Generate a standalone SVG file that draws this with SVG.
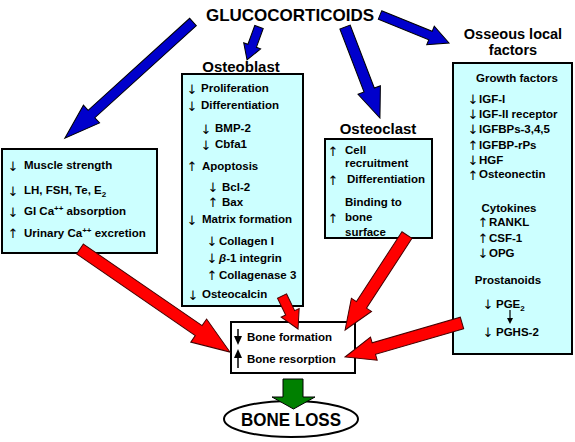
<svg xmlns="http://www.w3.org/2000/svg" width="575" height="442" viewBox="0 0 575 442">
<style>
.box{fill:#ccffff;stroke:#000;stroke-width:2}
.wbox{fill:#fff;stroke:#000;stroke-width:2}
.t{font-family:"Liberation Sans",Arial,sans-serif;font-weight:bold;font-size:11.5px;fill:#000}
.h{font-size:15px}
.c{text-anchor:middle}
.ar{font-family:"DejaVu Sans",sans-serif;font-size:13px;text-anchor:middle;fill:#000}
.blue{fill:#0000cc;stroke:#000;stroke-width:1}
.red{fill:#ff0000;stroke:#400;stroke-width:1}
.green{fill:#008000;stroke:#000;stroke-width:1}
</style>
<rect width="575" height="442" fill="#fff"/>

<g id="glucocorticoids">
<text class="t c" x="290" y="21" style="font-size:17px">GLUCOCORTICOIDS</text>
</g>

<g id="systemic">
<rect class="box" x="2" y="149" width="155" height="104"/>
<text class="ar" x="13" y="171">↓</text><text class="t" x="24" y="169">Muscle strength</text>
<text class="ar" x="13" y="196">↓</text><text class="t" x="24" y="194">LH, FSH, Te, E<tspan dy="3" style="font-size:8px">2</tspan></text>
<text class="ar" x="13" y="217">↓</text><text class="t" x="24" y="215">GI Ca<tspan dy="-4" style="font-size:8px">++</tspan><tspan dy="4"> absorption</tspan></text>
<text class="ar" x="13" y="238">↑</text><text class="t" x="24" y="237">Urinary Ca<tspan dy="-4" style="font-size:8px">++</tspan><tspan dy="4"> excretion</tspan></text>
</g>

<g id="osteoblast">
<text class="t h c" x="241" y="72">Osteoblast</text>
<rect class="box" x="182" y="74" width="121" height="232"/>
<text class="ar" x="192" y="94">↓</text><text class="t" x="201" y="92">Proliferation</text>
<text class="ar" x="192" y="111">↓</text><text class="t" x="201" y="109">Differentiation</text>
<text class="ar" x="206" y="134">↓</text><text class="t" x="215" y="132">BMP-2</text>
<text class="ar" x="206" y="150">↓</text><text class="t" x="215" y="148">Cbfa1</text>
<text class="ar" x="192" y="171">↑</text><text class="t" x="202" y="170">Apoptosis</text>
<text class="ar" x="213" y="192">↓</text><text class="t" x="222" y="191">Bcl-2</text>
<text class="ar" x="213" y="207">↑</text><text class="t" x="222" y="206">Bax</text>
<text class="ar" x="192" y="225">↓</text><text class="t" x="202" y="223">Matrix formation</text>
<text class="ar" x="212" y="246">↓</text><text class="t" x="219" y="245">Collagen I</text>
<text class="ar" x="212" y="263">↓</text><text class="t" x="219" y="262"><tspan font-style="italic">β</tspan>-1 integrin</text>
<text class="ar" x="212" y="280">↑</text><text class="t" x="219" y="279">Collagenase 3</text>
<text class="ar" x="193" y="300">↓</text><text class="t" x="202" y="298">Osteocalcin</text>
</g>

<g id="osteoclast">
<text class="t h c" x="378" y="134">Osteoclast</text>
<rect class="box" x="325" y="139" width="107" height="99"/>
<text class="ar" x="333" y="156">↑</text><text class="t" x="345" y="154">Cell</text>
<text class="t" x="345" y="167">recruitment</text>
<text class="ar" x="333" y="185">↑</text><text class="t" x="347" y="183">Differentiation</text>
<text class="t" x="345" y="206">Binding to</text>
<text class="ar" x="333" y="223">↑</text><text class="t" x="345" y="221">bone</text>
<text class="t" x="345" y="236">surface</text>
</g>

<g id="osseous">
<text class="t c" x="513" y="39" style="font-size:14.5px">Osseous local</text>
<text class="t c" x="513" y="55" style="font-size:14.5px">factors</text>
<rect class="box" x="453" y="63" width="119" height="291"/>
<text class="t c" x="517" y="82">Growth factors</text>
<text class="ar" x="473" y="104">↓</text><text class="t" x="479" y="103">IGF-I</text>
<text class="ar" x="473" y="119">↓</text><text class="t" x="479" y="118">IGF-II receptor</text>
<text class="ar" x="473" y="134">↓</text><text class="t" x="479" y="133">IGFBPs-3,4,5</text>
<text class="ar" x="473" y="150">↑</text><text class="t" x="479" y="149">IGFBP-rPs</text>
<text class="ar" x="473" y="165">↓</text><text class="t" x="479" y="164">HGF</text>
<text class="ar" x="473" y="180">↑</text><text class="t" x="479" y="178">Osteonectin</text>
<text class="t c" x="509" y="212">Cytokines</text>
<text class="ar" x="483" y="227">↑</text><text class="t" x="489" y="226">RANKL</text>
<text class="ar" x="483" y="243">↑</text><text class="t" x="489" y="242">CSF-1</text>
<text class="ar" x="483" y="258">↓</text><text class="t" x="489" y="257">OPG</text>
<text class="t c" x="508" y="284">Prostanoids</text>
<text class="ar" x="488" y="309">↓</text><text class="t" x="496" y="308">PGE<tspan dy="3" style="font-size:8px">2</tspan></text>
<path d="M510,310 V319" stroke="#000" stroke-width="1.2" fill="none"/>
<path d="M507,318 L513,318 L510,324 Z" fill="#000"/>
<text class="ar" x="488" y="337">↓</text><text class="t" x="496" y="336">PGHS-2</text>
</g>

<g id="bone">
<rect class="wbox" x="231" y="322" width="124" height="51"/>
<path d="M238,329 V338" stroke="#000" stroke-width="1.5"/>
<path d="M234,336 L242,336 L238,345 Z" fill="#000"/>
<path d="M238,356 V368" stroke="#000" stroke-width="1.5"/>
<path d="M234,358 L242,358 L238,349 Z" fill="#000"/>
<text class="t" x="247" y="341">Bone formation</text>
<text class="t" x="247" y="363">Bone resorption</text>
</g>

<g id="boneloss">
<ellipse cx="291" cy="419" rx="67" ry="18" fill="#fff" stroke="#000" stroke-width="2"/>
<text class="t c" x="291" y="426" style="font-size:19px" textLength="100" lengthAdjust="spacingAndGlyphs">BONE LOSS</text>
</g>

<g id="connectors">
<polygon class="blue" transform="translate(193,22) rotate(137.8)" points="0,-5 137,-5 137,-12 173,0 137,12 137,5 0,5"/>
<polygon class="blue" transform="translate(259,27) rotate(110)" points="0,-4.5 20,-4.5 20,-9 35,0 20,9 20,4.5 0,4.5"/>
<polygon class="blue" transform="translate(345,27) rotate(69)" points="0,-5.5 67.5,-5.5 67.5,-12 97.5,0 67.5,12 67.5,5.5 0,5.5"/>
<polygon class="blue" transform="translate(380,15) rotate(22.1)" points="0,-4.5 54.5,-4.5 54.5,-10 74.5,0 54.5,10 54.5,4.5 0,4.5"/>
<polygon class="red" transform="translate(80,249) rotate(34.5)" points="0,-6 144,-6 144,-14 182,0 144,14 144,6 0,6"/>
<polygon class="red" transform="translate(282,296) rotate(64.1)" points="0,-5 18.7,-5 18.7,-10 36.7,0 18.7,10 18.7,5 0,5"/>
<polygon class="red" transform="translate(407,235) rotate(123.1)" points="0,-6 83.4,-6 83.4,-12 113.4,0 83.4,12 83.4,6 0,6"/>
<polygon class="red" transform="translate(462,323) rotate(163.8)" points="0,-6 91.8,-6 91.8,-12 121.8,0 91.8,12 91.8,6 0,6"/>
<polygon class="green" points="283,379 303,379 303,397 315,397 293.5,409 272,397 283,397"/>
</g>
</svg>
